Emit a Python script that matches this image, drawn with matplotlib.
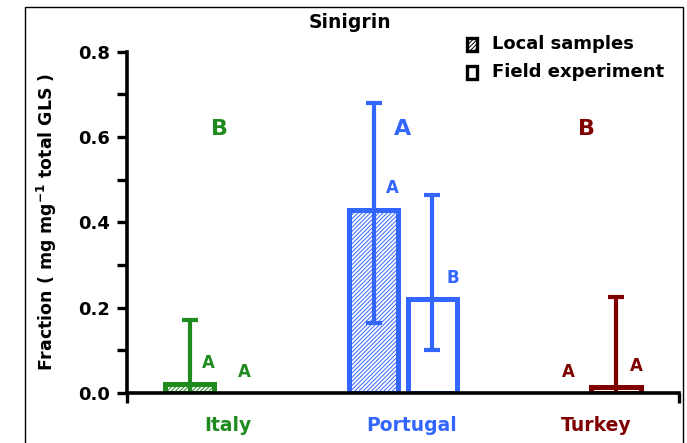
import numpy as np
import matplotlib.pyplot as plt
from matplotlib.patches import Rectangle
import matplotlib.transforms as mtransforms

plt.rcParams['font.family'] = ['DejaVu Sans']
plt.rcParams['font.weight'] = 'bold'
plt.rcParams['hatch.linewidth'] = 0.7

# --- Data ---
countries = ['Italy', 'Portugal', 'Turkey']
colors = ['#1f8b1f', '#3366ff', '#800000']
local_mean = [0.02, 0.43, 0.0]
local_err_lo = [0.15, 0.265, 0.0]
local_err_hi = [0.15, 0.25, 0.0]
field_mean = [0.0, 0.22, 0.014]
field_err_lo = [0.0, 0.12, 0.21]
field_err_hi = [0.0, 0.245, 0.21]
group_letters = ['B', 'A', 'B']
local_letters = ['A', 'A', 'A']
field_letters = ['A', 'B', 'A']

x = np.arange(len(countries))
offset = 0.16
width = 0.27

fig = plt.figure(figsize=(6.87, 4.43), dpi=100)
ax = fig.add_axes([0.185, 0.113, 0.803, 0.77])


def draw_bar(xpos, val, lo, hi, col, hatch):
    if val <= 0:
        return
    ax.bar(xpos, val, width, facecolor='white', edgecolor=col,
           linewidth=3.6, hatch=hatch, zorder=2)
    ax.errorbar(xpos, val, yerr=[[lo], [hi]], fmt='none', ecolor=col,
                elinewidth=3, capsize=6, capthick=3, zorder=3)


for i in range(len(countries)):
    c = colors[i]
    xl = x[i] - offset
    xf = x[i] + offset
    draw_bar(xl, local_mean[i], local_err_lo[i], local_err_hi[i], c, '////////')
    draw_bar(xf, field_mean[i], field_err_lo[i], field_err_hi[i], c, None)

    # significance letters
    ax.text(x[i], 0.62, group_letters[i], color=c, fontsize=16,
            ha='center', va='center', fontweight='bold')
    dl = 0.1 if local_mean[i] > 0 else 0.06
    ax.text(xl + dl, local_mean[i] + 0.05, local_letters[i], color=c,
            fontsize=12, ha='center', va='center', fontweight='bold')
    df = 0.11 if field_mean[i] > 0 else -0.02
    ax.text(xf + df, field_mean[i] + 0.05, field_letters[i], color=c,
            fontsize=12, ha='center', va='center', fontweight='bold')

# category labels below the axis
trans = mtransforms.blended_transform_factory(ax.transData, ax.transAxes)
for i in range(len(countries)):
    ax.text(x[i] + 0.05, -0.094, countries[i], color=colors[i], fontsize=13.5,
            ha='center', va='center', fontweight='bold', transform=trans)

ax.set_xlim(-0.5, 2.5)
ax.set_ylim(0, 0.8)
ax.set_xticks([-0.5, 2.5])
ax.set_xticklabels(['', ''])
ax.set_yticks([0.0, 0.2, 0.4, 0.6, 0.8])
ax.set_yticklabels(['0.0', '0.2', '0.4', '0.6', '0.8'])
ax.set_yticks([0.1, 0.3, 0.5, 0.7], minor=True)
ax.tick_params(axis='both', which='both', direction='out', length=7,
               width=2.4, labelsize=13, pad=5)
for lab in ax.get_yticklabels():
    lab.set_fontweight('bold')
for s in ['top', 'right']:
    ax.spines[s].set_visible(False)
for s in ['left', 'bottom']:
    ax.spines[s].set_linewidth(2.6)
    ax.spines[s].set_zorder(4)

ax.set_ylabel('Fraction ( mg mg$^{\\mathbf{-1}}$ total GLS )', fontsize=12.5,
              fontweight='bold', labelpad=14)

# title
fig.text(0.51, 0.949, 'Sinigrin', ha='center', va='center', fontsize=13.5,
         fontweight='bold')

# legend (drawn by hand to match the boxed markers)
legend_labels = ['Local samples', 'Field experiment']
legend_hatch = ['////////', None]
for k in range(2):
    yc = 1 - (44 + 28 * k) / 443
    fig.patches.append(Rectangle((467 / 687, yc - 6.5 / 443), 10 / 687, 13 / 443,
                                 transform=fig.transFigure, facecolor='white',
                                 edgecolor='black', linewidth=2.4,
                                 hatch=legend_hatch[k]))
    fig.text(492 / 687, yc, legend_labels[k], ha='left', va='center',
             fontsize=13, fontweight='bold')

# outer frame
fig.patches.append(Rectangle((0.036, -0.1), 0.958, 1.084, transform=fig.transFigure,
                             fill=False, edgecolor='black', linewidth=1.0))

fig.savefig('out.png', dpi=100)
